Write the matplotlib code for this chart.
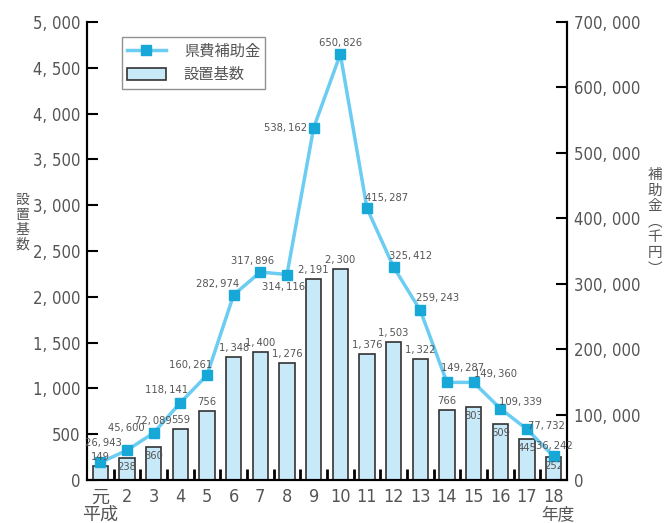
import numpy as np
import matplotlib
matplotlib.use("Agg")
import matplotlib.pyplot as plt
from matplotlib import font_manager

# look for a narrow sans for the numbers
fonts = font_manager.fontManager.ttflist
narrow = [f for f in fonts if "Narrow" in f.name or "Condensed" in f.name
          or str(f.stretch) in ("condensed", "semi-condensed", "extra-condensed")]
narrow.sort(key=lambda f: (f.style != "normal", f.weight not in (400, "normal", "regular")))
if narrow:
    num_font, num_stretch = narrow[0].name, narrow[0].stretch
else:
    num_font, num_stretch = "DejaVu Sans", "normal"
jp = "Noto Sans CJK JP"
plt.rcParams["font.family"] = [num_font, "DejaVu Sans", jp]
plt.rcParams["font.stretch"] = num_stretch

years = ["元", "2", "3", "4", "5", "6", "7", "8", "9", "10",
         "11", "12", "13", "14", "15", "16", "17", "18"]
units = [149, 238, 360, 559, 756, 1348, 1400, 1276, 2191, 2300,
         1376, 1503, 1322, 766, 803, 609, 445, 252]
subsidy = [26943, 45600, 72089, 118141, 160261, 282974, 317896, 314116, 538162, 650826,
           415287, 325412, 259243, 149287, 149360, 109339, 77732, 36242]

# label offsets in pixels (dx, dy) for the subsidy line
line_off = [(3, 19), (-1, 22), (0, 12), (-14, 13), (-16, 10), (-16, 11), (-8, 11), (-3, -12),
            (-25, 0), (0, 11), (20, 10), (17, 11), (17, 12), (16, 14), (22, 8), (20, 7),
            (19, 3), (1, 10)]
inside = {238, 360, 803, 609, 445, 252}

def fmt(v, sep=", "):
    return f"{v:,}".replace(",", sep)

gray = "#555555"
fig = plt.figure(figsize=(6.69, 5.23), dpi=100)
ax = fig.add_axes([0.130, 0.082, 0.7175, 0.876])
x = np.arange(len(years))

bars = ax.bar(x, units, width=0.58, color="#c8e9f8", edgecolor="#333333", linewidth=1.2,
              label="設置基数", zorder=2)
ax.set_xlim(-0.5, len(years) - 0.5)
ax.set_ylim(0, 5000)
ax.set_yticks(range(0, 5001, 500))
ax.set_yticklabels([fmt(v) for v in range(0, 5001, 500)])
ax.set_xticks(x)
ax.set_xticklabels(years)
ax.set_xticks(x[:-1] + 0.5, minor=True)
ax.tick_params(axis="x", which="major", length=0, labelsize=13, labelcolor=gray, pad=6)
ax.tick_params(axis="x", which="minor", direction="in", length=8, width=2)
ax.tick_params(axis="y", direction="in", length=8, width=1.5, labelsize=12, labelcolor=gray,
               pad=5)
ax.spines["top"].set_visible(False)
for s in ["left", "right", "bottom"]:
    ax.spines[s].set_linewidth(1.5)

ax2 = ax.twinx()
ax2.set_ylim(0, 700000)
ax2.set_yticks(range(0, 700001, 100000))
ax2.set_yticklabels([fmt(v) for v in range(0, 700001, 100000)])
ax2.tick_params(axis="y", direction="in", length=8, width=1.5, labelsize=12, labelcolor=gray,
                pad=5)
ax2.spines["top"].set_visible(False)
for s in ["left", "right", "bottom"]:
    ax2.spines[s].set_linewidth(1.5)

ln, = ax2.plot(x, subsidy, color="#6ccdf2", linewidth=2.5, marker="s", markersize=7,
               markerfacecolor="#18a8d8", markeredgecolor="#18a8d8", label="県費補助金", zorder=3)

# bar labels drawn on ax2 so they sit above the line
for xi, v in zip(x, units):
    dy = -9 if v in inside else 9
    ax2.annotate(fmt(v, ",\u2009"), (xi, v), xycoords=ax.transData, xytext=(0, dy * 0.72),
                 textcoords="offset points", ha="center", va="center", fontsize=8,
                 color=gray, zorder=5)

for xi, v, (dx, dy) in zip(x, subsidy, line_off):
    ha = "center"
    if dx <= -20:
        ha, dx = "right", -7
    ax2.annotate(fmt(v, ",\u2009"), (xi, v), xytext=(dx * 0.72, dy * 0.72),
                 textcoords="offset points", ha=ha, va="center", fontsize=8,
                 color=gray, zorder=5)

leg = ax2.legend([ln, bars], ["県費補助金", "設置基数"], loc="upper left",
                 bbox_to_anchor=(0.073, 0.967), fancybox=False, edgecolor="#777777",
                 prop={"family": [jp], "size": 11}, handlelength=2.5, handleheight=0.9,
                 labelspacing=0.45, borderpad=0.35, handletextpad=1.2, borderaxespad=0)
leg.get_frame().set_linewidth(1.0)
for t in leg.get_texts():
    t.set_color(gray)

# vertical axis titles, one character per line
for i, ch in enumerate("設置基数"):
    fig.text(22 / 669, 1 - (200 + 14.8 * i) / 523, ch, ha="center", va="center",
             fontsize=10, color=gray, family=[jp])
for i, ch in enumerate("補助金︵千円︶"):
    fig.text(655 / 669, 1 - (175 + 15.6 * i) / 523, ch, ha="center", va="center",
             fontsize=10.5, color=gray, family=[jp])
fig.text(100 / 669, 1 - 515 / 523, "平成", ha="center", va="center", fontsize=13,
         color=gray, family=[jp])
fig.text(558 / 669, 1 - 515 / 523, "年度", ha="center", va="center", fontsize=12,
         color=gray, family=[jp])

fig.savefig("out.png", dpi=100)
